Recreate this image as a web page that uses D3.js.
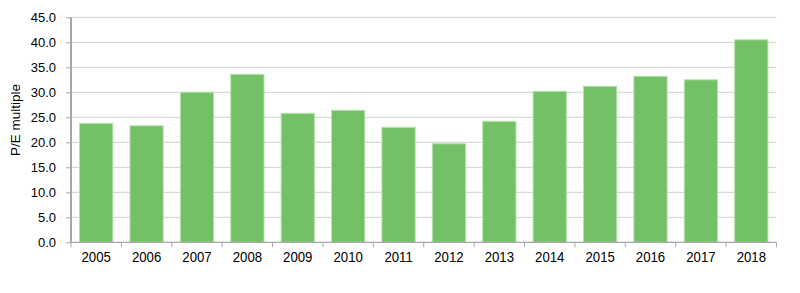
<!DOCTYPE html>
<html>
<head>
<meta charset="utf-8">
<script src="https://cdn.jsdelivr.net/npm/d3@7"></script>
<style>
  html, body { margin: 0; padding: 0; background: #fff; }
  svg { display: block; }
  text { font-family: "Liberation Sans", Arial, sans-serif; fill: #000; }
</style>
</head>
<body>
<svg id="chart" width="800" height="293"></svg>
<script>
const years = ["2005","2006","2007","2008","2009","2010","2011","2012","2013","2014","2015","2016","2017","2018"];
const peValues = [23.8, 23.3, 30.0, 33.6, 25.8, 26.4, 23.0, 19.7, 24.2, 30.2, 31.2, 33.2, 32.5, 40.5];
const yTicks = [0, 5, 10, 15, 20, 25, 30, 35, 40, 45];
const yLabel = "P/E multiple";

(function () {
const svg = d3.select("#chart");
const mLeft = 71, mRight = 776.5, mTop = 17.3, mBottom = 242.3;

const x = d3.scaleBand().domain(years).range([mLeft, mRight]).paddingInner(0.34).paddingOuter(0.17);
const xb = d3.scaleBand().domain(years).range([mLeft, mRight]);
const y = d3.scaleLinear().domain([0, 45]).range([mBottom, mTop]);

// gridlines
svg.append("g").selectAll("line").data(yTicks.filter(d => d > 0)).join("line")
  .attr("x1", mLeft).attr("x2", mRight)
  .attr("y1", d => y(d)).attr("y2", d => y(d))
  .attr("stroke", "#d9d9d9").attr("stroke-width", 1.2);

// bars
svg.append("g").selectAll("rect").data(years).join("rect")
  .attr("x", d => x(d))
  .attr("width", x.bandwidth())
  .attr("y", (d, i) => y(peValues[i]))
  .attr("height", (d, i) => y(0) - y(peValues[i]))
  .attr("fill", "#73c066")
  .attr("stroke", "#b3e4a8")
  .attr("stroke-width", 1);

// y axis
const yAxis = d3.axisLeft(y).tickValues(yTicks).tickFormat(d3.format(".1f")).tickSize(5).tickPadding(10);
const gy = svg.append("g").attr("transform", `translate(${mLeft},0)`).call(yAxis);
gy.select(".domain").attr("stroke", "#a6a6a6").attr("stroke-width", 2).attr("d", `M0,${mTop}V${mBottom}`);
gy.selectAll(".tick line").attr("stroke", "#a6a6a6");
gy.selectAll(".tick text").style("font-size", "13px").attr("font-family", null).style("font-family", '"Liberation Sans", Arial, sans-serif');

// x axis
const xAxis = d3.axisBottom(xb).tickSize(0).tickPadding(0);
const gx = svg.append("g").attr("transform", `translate(0,${mBottom})`).call(xAxis);
gx.select(".domain").attr("stroke", "#a6a6a6").attr("stroke-width", 1.2).attr("d", `M${mLeft},0H${mRight}`);
gx.selectAll(".tick text").attr("y", 0).attr("dy", null)
  .attr("transform", "translate(0,19.5) scale(0.88,1)")
  .style("font-size", "15px").attr("font-family", null)
  .style("font-family", '"Liberation Sans", Arial, sans-serif');
// boundary ticks between bands
const bounds = years.map(d => xb(d)).concat([mRight]);
gx.append("g").selectAll("line").data(bounds).join("line")
  .attr("x1", d => d).attr("x2", d => d)
  .attr("y1", 0).attr("y2", 5)
  .attr("stroke", "#a6a6a6");

// y label
svg.append("text")
  .attr("transform", `translate(20,120) rotate(-90)`)
  .attr("text-anchor", "middle")
  .style("font-size", "13.5px")
  .text(yLabel);
})();
</script>
</body>
</html>
